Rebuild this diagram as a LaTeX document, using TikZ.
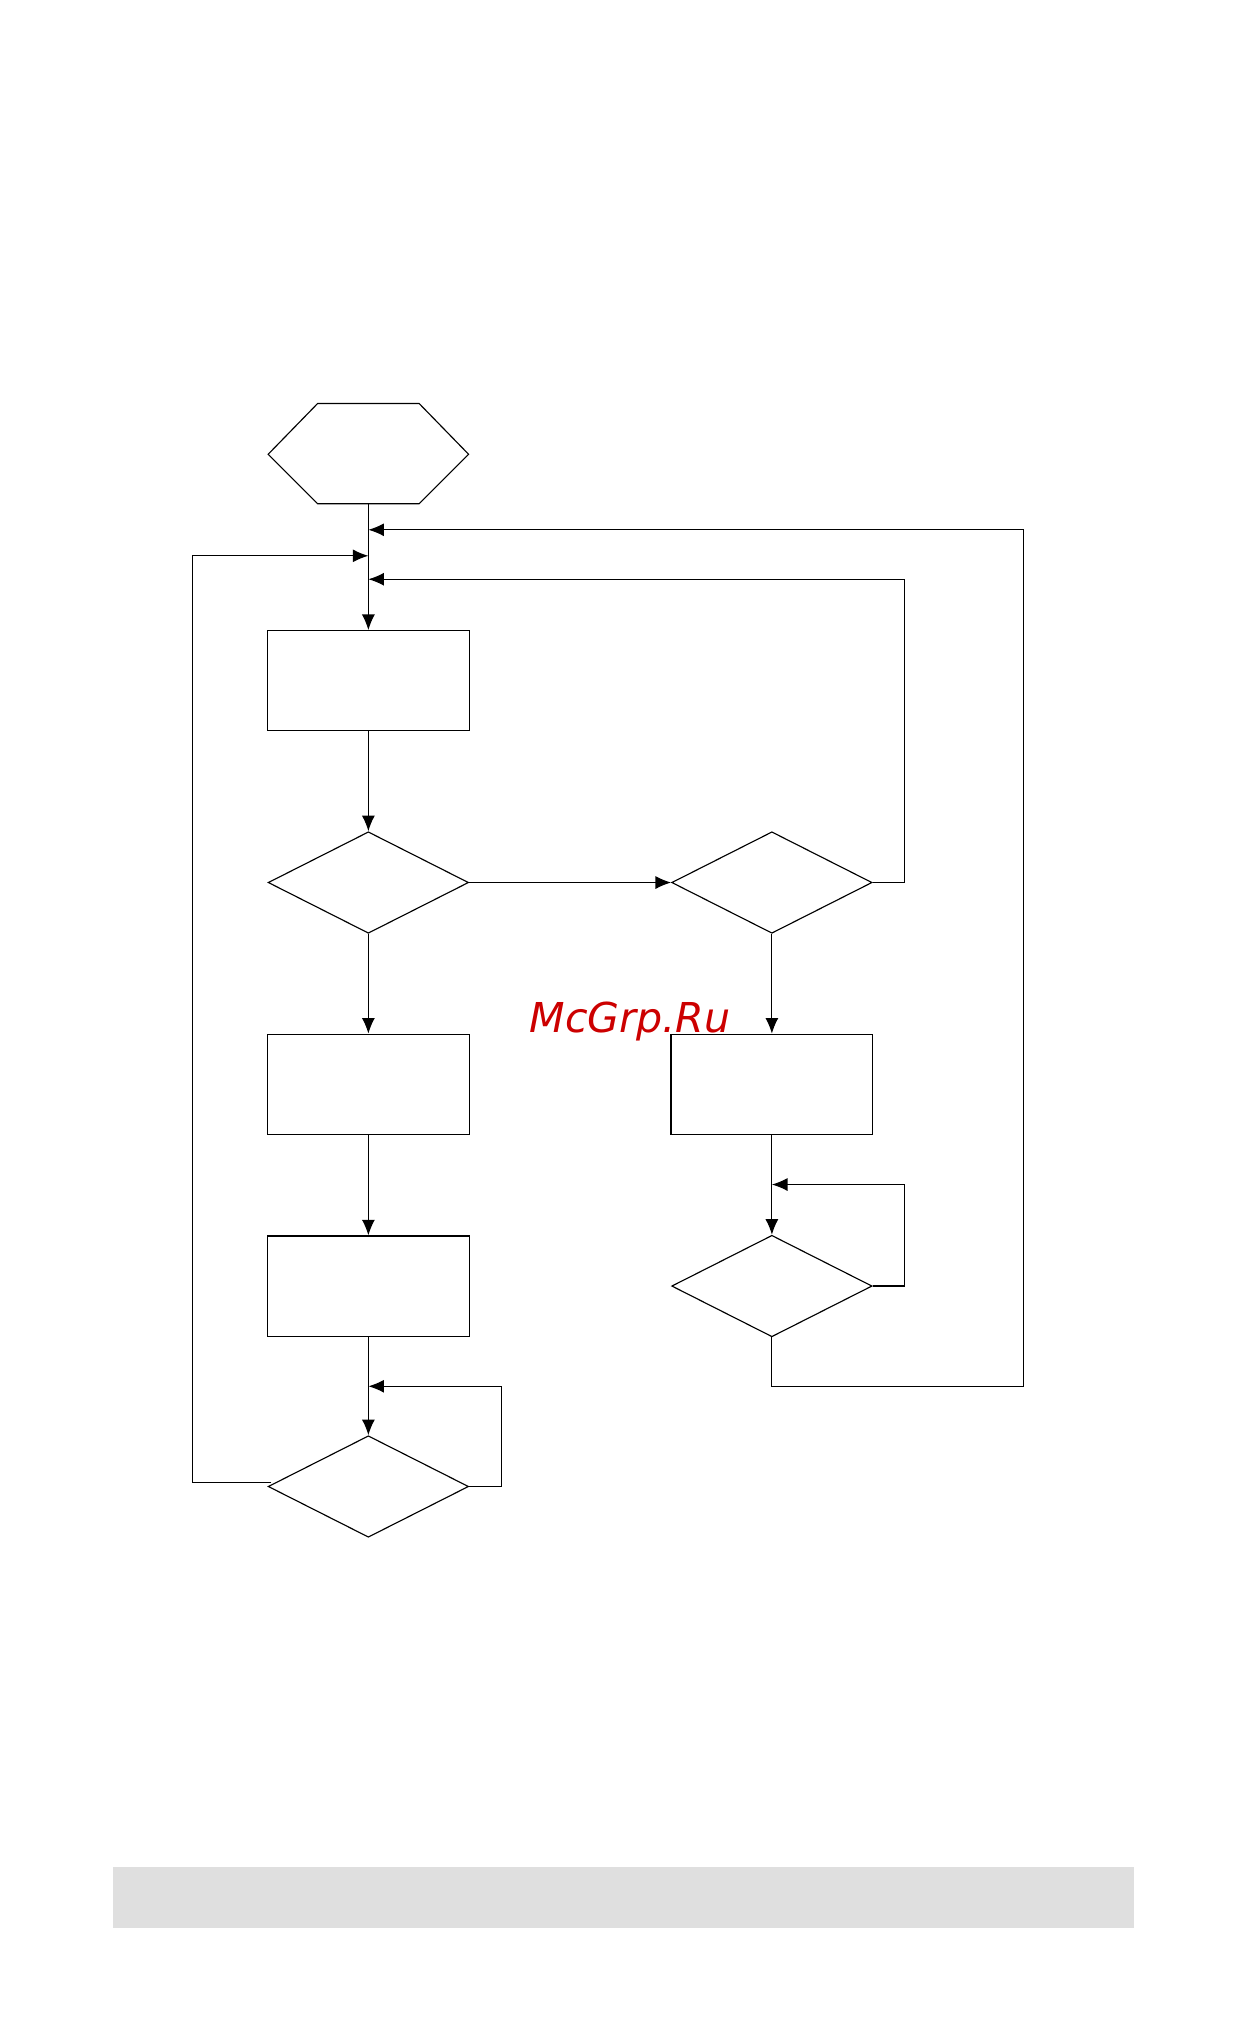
\documentclass[tikz,border=0pt]{standalone}
\usepackage{tikz}
\usepackage{fontspec}
\newfontfamily\markfont{DejaVu Sans}
\usetikzlibrary{calc, positioning, shapes.geometric, arrows.meta}

\begin{document}
\begin{tikzpicture}[x=0.02cm,y=-0.02cm,-,line width=0.5pt,
                    box node/.style={rectangle,draw,minimum width=3.1cm,minimum height=1.54cm,inner sep=0pt},
                    test node/.style={diamond,draw,aspect=2,minimum width=3.08cm,minimum height=1.56cm,inner sep=0pt},
                    flow/.style={-{Latex[length=0.24cm,width=0.2cm]},line width=0.5pt}]
  \useasboundingbox (0,0) rectangle (960,1568);
  \fill[gray!25] (87,1434) rectangle (871,1481);

  % start hexagon
  \draw (244,310) -- (322,310) -- (360,349) -- (322,387) -- (244,387) -- (206,349) -- cycle;
  \coordinate (start) at (283,387);

  \node[box node]  (b1) at (283,523) {};
  \node[test node] (d1) at (283,678) {};
  \node[test node] (d2) at (593,678) {};
  \node[box node]  (b2) at (283,833) {};
  \node[box node]  (b3) at (593,833) {};
  \node[box node]  (b4) at (283,988) {};
  \node[test node] (d3) at (593,988) {};
  \node[test node] (d4) at (283,1142) {};

  \draw[flow] (start) -- (b1);
  \draw[flow] (b1) -- (d1);
  \draw[flow] (d1) -- (d2);
  \draw[flow] (d1) -- (b2);
  \draw[flow] (d2) -- (b3);
  \draw[flow] (b2) -- (b4);
  \draw[flow] (b3) -- (d3);
  \draw[flow] (b4) -- (d4);

  % return paths
  \draw[flow] (d2.east) -- (695,678) -- (695,445) -- (283,445);
  \draw[flow] (d3.south) -- (593,1065) -- (786,1065) -- (786,407) -- (283,407);
  \draw[flow] (d3.east) -- (695,988) -- (695,910) -- (593,910);
  \draw[flow] (d4.east) -- (385,1142) -- (385,1065) -- (283,1065);
  \draw[flow] ($(d4.west)+(3,-3)$) -- (148,1139) -- (148,427) -- (283,427);

  \node[text=red!80!black,font=\markfont\itshape\fontsize{18}{20}\selectfont] (mark) at (484,785) {McGrp.Ru};
\end{tikzpicture}
\end{document}
